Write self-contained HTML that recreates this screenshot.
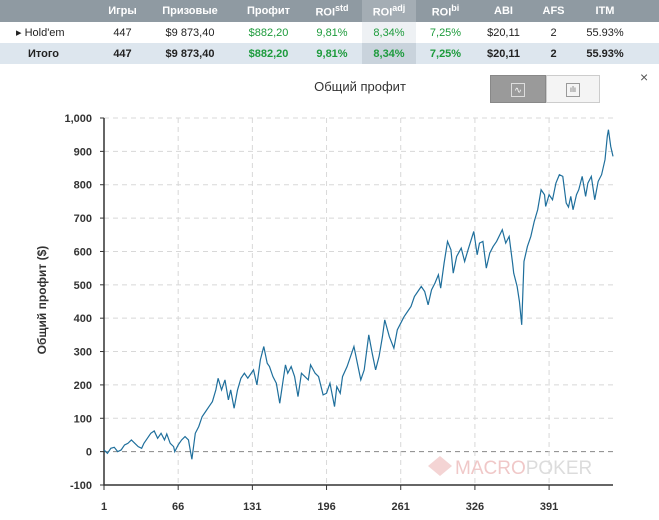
<!DOCTYPE html>
<html><head><meta charset="utf-8">
<style>
body{margin:0;width:659px;height:520px;background:#fff;font-family:"Liberation Sans","DejaVu Sans",sans-serif;position:relative;overflow:hidden}
table{position:absolute;left:0;top:0;width:659px;border-collapse:collapse;font-size:11px;table-layout:fixed}
th{background:#8f9aa2;color:#fff;height:22px;font-weight:bold;padding:0;text-align:center}
td{height:21px;padding:0;text-align:center;color:#222}
tr.total td{background:#dde6ee;font-weight:bold}
.g{color:#1d9b3c}
.adj{background:#a4adb4}
td.adjc{background:#eef1f4}
tr.total td.adjc{background:#c9d3dc}
sup{font-size:9px}
</style></head><body>
<table>
<colgroup><col style="width:100px"><col style="width:45px"><col style="width:90px"><col style="width:67px"><col style="width:60px"><col style="width:54px"><col style="width:59px"><col style="width:57px"><col style="width:43px"><col style="width:60px"><col style="width:24px"></colgroup>
<tr><th></th><th>Игры</th><th>Призовые</th><th>Профит</th><th>ROI<sup>std</sup></th><th class="adj">ROI<sup>adj</sup></th><th>ROI<sup>bi</sup></th><th>ABI</th><th>AFS</th><th>ITM</th><th></th></tr>
<tr><td style="text-align:left;padding-left:16px">▸ Hold'em</td><td>447</td><td>$9 873,40</td><td class="g">$882,20</td><td class="g">9,81%</td><td class="g adjc">8,34%</td><td class="g">7,25%</td><td>$20,11</td><td>2</td><td>55.93%</td><td></td></tr>
<tr class="total"><td style="text-align:left;padding-left:28px">Итого</td><td>447</td><td>$9 873,40</td><td class="g">$882,20</td><td class="g">9,81%</td><td class="g adjc">8,34%</td><td class="g">7,25%</td><td>$20,11</td><td>2</td><td>55.93%</td><td></td></tr>
</table>
<div style="position:absolute;left:300px;top:79px;width:120px;text-align:center;font-size:13px;color:#333">Общий профит</div>
<div style="position:absolute;left:490px;top:75px;width:56px;height:28px;background:#9a9a9a;border:1px solid #888;box-sizing:border-box"><div style="position:absolute;left:20px;top:7px;width:12px;height:12px;border:1px solid #ddd;color:#fff;font-size:9px;line-height:12px;text-align:center">∿</div></div>
<div style="position:absolute;left:546px;top:75px;width:54px;height:28px;background:#f4f4f4;border:1px solid #ccc;box-sizing:border-box"><div style="position:absolute;left:19px;top:7px;width:12px;height:12px;border:1px solid #999;color:#666;font-size:8px;line-height:12px;text-align:center">ılı</div></div>
<div style="position:absolute;left:640px;top:69px;font-size:14px;color:#555">×</div>
<svg id="chart" width="659" height="520" style="position:absolute;left:0;top:0"></svg>
<script>
const games=[1,4,7,10,13,16,19,22,25,28,31,34,36,39,42,45,48,51,54,56,59,62,63,66,69,72,75,78,81,84,87,90,93,96,99,101,104,107,110,112,115,118,121,124,127,130,132,135,138,141,144,146,149,152,155,158,160,162,165,168,171,174,177,180,182,186,189,193,196,199,203,205,208,210,214,217,220,223,226,229,233,236,239,242,245,247,251,255,258,261,264,267,270,273,276,279,282,285,288,291,294,296,299,302,305,307,310,314,317,320,325,328,330,333,336,339,342,345,350,353,356,359,360,363,365,367,369,372,375,378,381,384,387,388,391,394,397,400,403,406,408,410,412,415,417,420,423,425,428,431,434,437,440,442,443,445,447];
const profit=[5,-5,10,13,0,5,20,25,35,25,15,10,25,40,55,62,40,55,35,53,25,15,0,20,35,45,35,-23,55,75,105,120,135,150,185,220,185,215,155,185,130,185,220,235,220,235,245,200,275,315,265,255,225,205,145,215,260,235,255,225,165,235,225,215,260,235,225,170,175,205,135,195,175,225,255,285,315,265,215,245,350,295,245,285,345,395,345,310,365,385,405,420,435,465,480,495,480,440,485,505,530,490,565,630,605,535,585,610,570,605,660,590,625,630,550,595,615,630,665,625,645,565,535,495,450,380,570,615,645,690,725,785,770,735,770,755,805,830,825,745,733,765,725,770,785,825,765,805,825,755,810,830,875,945,965,915,885];
const yTicks=[-100,0,100,200,300,400,500,600,700,800,900,1000];
const yLabels=["-100","0","100","200","300","400","500","600","700","800","900","1,000"];
const xTicks=[1,66,131,196,261,326,391];
const X0=104,X1=613,Y0=485,Y1=118;
const xs=g=>X0+(g-1)*(X1-X0)/446;
const ys=v=>Y0-(v+100)*(Y0-Y1)/1100;
const svg=document.getElementById('chart');
const NS='http://www.w3.org/2000/svg';
function mk(t,a){const e=document.createElementNS(NS,t);for(const k in a)e.setAttribute(k,a[k]);svg.appendChild(e);return e;}
yTicks.forEach((v,i)=>{
 const y=ys(v);
 const l=mk('line',{x1:X0,x2:X1,y1:y,y2:y,stroke:v===0?'#888':'#d8d8d8','stroke-dasharray':'5,4'});
 
 
 mk('line',{x1:X0-4,x2:X0,y1:y,y2:y,stroke:'#333'});
 const t=mk('text',{x:92,y:y+4,'text-anchor':'end','font-size':'11','font-weight':'bold',fill:'#333'});
 t.textContent=yLabels[i];
 
 
});
xTicks.forEach(g=>{
 const x=xs(g);
 if(g>1){const l=mk('line',{x1:x,x2:x,y1:Y1,y2:Y0,stroke:'#d8d8d8','stroke-dasharray':'5,4'});
 
 }
 mk('line',{x1:x,x2:x,y1:Y0,y2:Y0+5,stroke:'#333'});
 const t=mk('text',{x:x,y:510,'text-anchor':'middle','font-size':'11','font-weight':'bold',fill:'#333'});
 t.textContent=g;
 
 
});
const wm=mk('text',{x:455,y:474,'font-size':'19',fill:'#f0c8c8'});
wm.innerHTML='<tspan>MACRO</tspan><tspan fill="#dcdcdc">POKER</tspan>';


const d=mk('path',{d:'M428,466 L440,456 L452,466 L440,476 Z',fill:'#f4d4d4'});


const ax=mk('path',{d:`M${X0},${Y1} L${X0},${Y0} L${X1},${Y0}`,fill:'none',stroke:'#333','stroke-width':1.5});


const line=mk('polyline',{points:games.map((g,i)=>xs(g)+','+ys(profit[i])).join(' '),fill:'none',stroke:'#1f6f9c','stroke-width':1.2});


const yt=mk('text',{x:0,y:0,'font-size':'12','font-weight':'bold',fill:'#333','text-anchor':'middle',transform:'translate(46,300) rotate(-90)'});
yt.textContent='Общий профит ($)';


</script>
</body></html>
